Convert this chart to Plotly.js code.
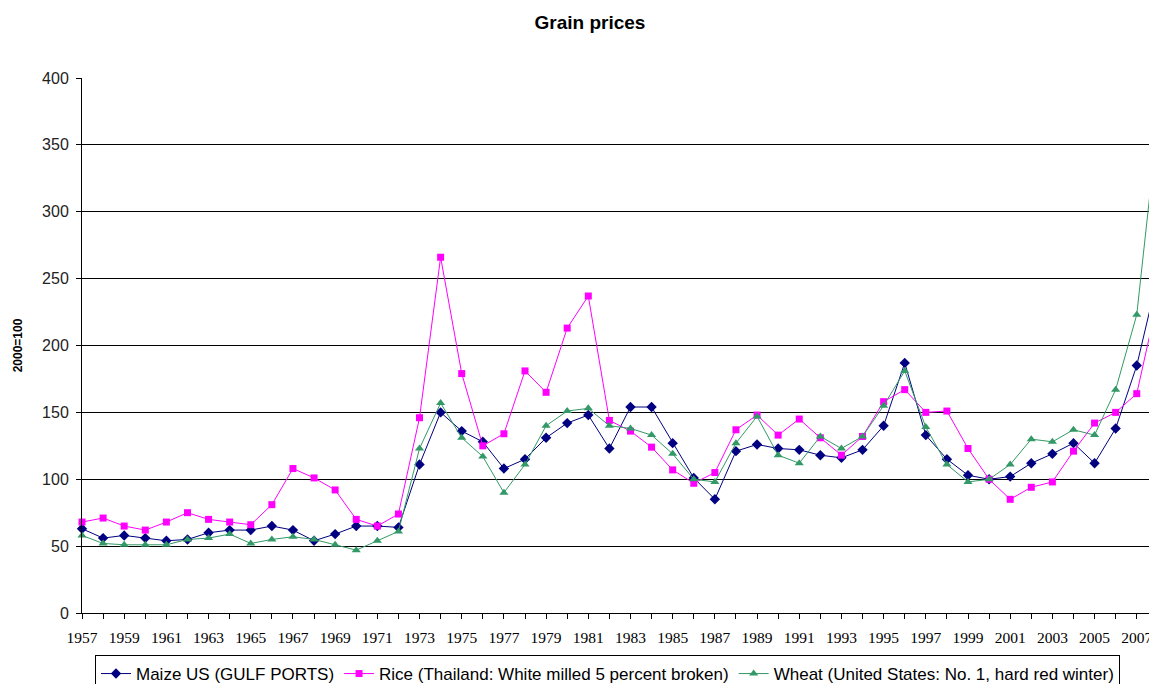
<!DOCTYPE html>
<html>
<head>
<meta charset="utf-8">
<script src="https://cdn.plot.ly/plotly-3.0.1.min.js"></script>
<style>
  html, body { margin: 0; padding: 0; background: #fff; }
  #chart { width: 1149px; height: 684px; }
</style>
</head>
<body>
<div id="chart"></div>
<script>
// Grain prices, index 2000=100
var years = [];
for (var yr = 1957; yr <= 2008; yr++) years.push(yr);

var maize = [63, 56, 58, 56, 54, 55, 60, 62, 62, 65, 62, 54, 59, 65, 65, 64,
  111, 150, 136, 128, 108, 115, 131, 142, 148, 123, 154, 154, 127, 101, 85,
  121, 126, 123, 122, 118, 116, 122, 140, 187, 133, 115, 103, 100, 102, 112,
  119, 127, 112, 138, 185, 252];

var rice = [68, 71, 65, 62, 68, 75, 70, 68, 66, 81, 108, 101, 92, 70, 65, 74,
  146, 266, 179, 125, 134, 181, 165, 213, 237, 144, 136, 124, 107, 97, 105,
  137, 148, 133, 145, 131, 118, 132, 158, 167, 150, 151, 123, 100, 85, 94,
  98, 121, 142, 150, 164, 235];

var wheat = [58, 52, 51, 51, 51, 55, 56, 59, 52, 55, 57, 55, 51, 47, 54, 61,
  123, 157, 131, 117, 90, 111, 140, 151, 153, 140, 138, 133, 119, 100, 98,
  127, 147, 118, 112, 132, 123, 132, 155, 181, 139, 111, 98, 100, 111, 130,
  128, 137, 133, 167, 223, 368];

var names = [
  "Maize US (GULF PORTS)",
  "Rice (Thailand: White milled 5 percent broken)",
  "Wheat (United States: No. 1, hard red winter)"
];

var data = [
  {x: years, y: maize, name: names[0], mode: "lines+markers", cliponaxis: false,
   line: {color: "#000080", width: 1},
   marker: {symbol: "diamond", size: 8, color: "#000080"}},
  {x: years, y: rice, name: names[1], mode: "lines+markers", cliponaxis: false,
   line: {color: "#FF00FF", width: 1},
   marker: {symbol: "square", size: 7, color: "#FF00FF"}},
  {x: years, y: wheat, name: names[2], mode: "lines+markers", cliponaxis: false,
   line: {color: "#339966", width: 1},
   marker: {symbol: "triangle-up", size: 8, color: "#339966"}}
];

var layout = {
  width: 1149, height: 684,
  margin: {l: 82, r: 0, t: 78, b: 71},
  paper_bgcolor: "#fff", plot_bgcolor: "#fff",
  font: {family: "Arial, Liberation Sans, sans-serif", color: "#000"},
  title: {text: "<b>Grain prices</b>", font: {size: 19, color: "#000"},
    x: 590 / 1149, xref: "container", xanchor: "center",
    y: 1 - 22 / 684, yref: "container", yanchor: "middle"},
  showlegend: true,
  legend: {orientation: "h", x: 95 / 1149, xref: "container", xanchor: "left",
    y: 1 - 655 / 684, yref: "container", yanchor: "top",
    bordercolor: "#000", borderwidth: 1, font: {size: 17, color: "#000"},
    tracegroupgap: 0, itemwidth: 30},
  xaxis: {range: [1957, 2007.58], tick0: 1957, dtick: 2, ticks: "outside",
    ticklen: 5, tickcolor: "#000", showgrid: false, zeroline: false,
    showline: true, linecolor: "#000", linewidth: 1,
    ticklabeloverflow: "allow", ticklabelstandoff: 5,
    tickfont: {family: "Times New Roman, Liberation Serif, serif", size: 15.5, color: "#000"},
    minor: {dtick: 1, tick0: 1957, ticks: "outside", ticklen: 5, tickcolor: "#000", showgrid: false}},
  yaxis: {range: [0, 400], dtick: 50, ticks: "outside", ticklen: 5,
    tickcolor: "#000", showgrid: true, gridcolor: "#000", gridwidth: 1,
    zeroline: false, showline: true, linecolor: "#000", linewidth: 1,
    ticklabelstandoff: 4,
    tickfont: {size: 16, color: "#222"},
    title: {text: "<b>2000=100</b>", font: {size: 12, color: "#000"}, standoff: 16}}
};

Plotly.newPlot("chart", data, layout, {displayModeBar: false});
</script>
</body>
</html>
